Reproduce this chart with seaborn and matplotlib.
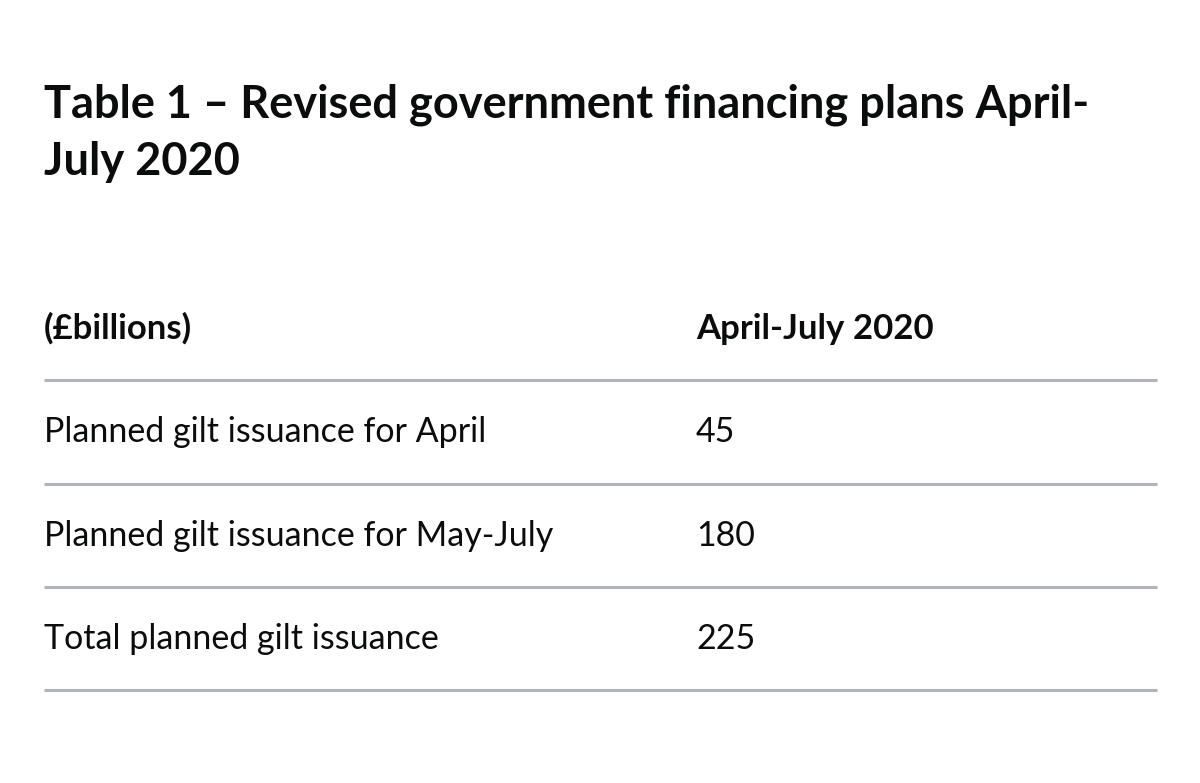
import matplotlib.pyplot as plt
import seaborn as sns

# table content
title_lines = ["Table 1 – Revised government financing plans April-", "July 2020"]
header = ["(£billions)", "April-July 2020"]
row_labels = [
    "Planned gilt issuance for April",
    "Planned gilt issuance for May-July",
    "Total planned gilt issuance",
]
row_values = [45, 180, 225]

sns.set_theme(style="white")
plt.rcParams['font.family'] = ['Lato', 'DejaVu Sans']

fig = plt.figure(figsize=(12, 7.83), dpi=100)
ax = fig.add_axes([0, 0, 1, 1])
ax.set_xlim(0, 1200)
ax.set_ylim(783, 0)
ax.axis("off")

text_color = "#0b0c0c"
rule_color = "#b1b4b6"
x_left, x_val, x_right = 44, 696, 1157

# title (two lines, baselines)
for i, line in enumerate(title_lines):
    ax.text(x_left, 117 + i * 58, line, fontsize=32.5, fontweight="bold",
            color=text_color, va="baseline", ha="left")

# header row
ax.text(x_left, 339, header[0], fontsize=25, fontweight="bold",
        color=text_color, va="baseline")
ax.text(x_val, 339, header[1], fontsize=25, fontweight="bold",
        color=text_color, va="baseline")

# rules under header and each row
rule_y = [380, 484, 587, 690]
ax.hlines(rule_y, x_left, x_right, color=rule_color, linewidth=2.2)

# body rows
for i, (label, val) in enumerate(zip(row_labels, row_values)):
    y = rule_y[i] + 62
    ax.text(x_left, y, label, fontsize=24.5, color=text_color, va="baseline")
    ax.text(x_val, y, str(val), fontsize=24.5, color=text_color, va="baseline")

fig.savefig("out.png", dpi=100, facecolor="white")
